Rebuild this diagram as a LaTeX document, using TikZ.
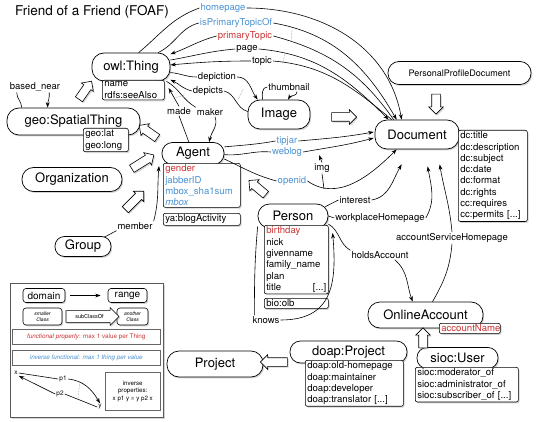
\documentclass[tikz,border=0pt]{standalone}
\usepackage{fontspec}
\setmainfont{TeX Gyre Heros}
\usetikzlibrary{shapes.arrows,shadows,calc,arrows.meta}
\definecolor{fred}{RGB}{204,51,51}
\definecolor{fblue}{RGB}{74,146,212}
\begin{document}
\begin{tikzpicture}[x=1pt,y=1pt,
  shad/.style={drop shadow={shadow xshift=1.2pt,shadow yshift=-1.4pt,opacity=0.35}},
  cls/.style n args={3}{draw,fill=white,line width=0.7pt,shad,inner sep=0pt,minimum width=#1,minimum height=#2,rounded corners=#3,font=\fontsize{13}{15}\selectfont},
  attr/.style={draw,fill=white,line width=0.6pt,rounded corners=2pt,shad,anchor=north west,align=left,inner xsep=2pt,inner ysep=1.5pt,text width=#1,font=\fontsize{9.6}{11.3}\selectfont},
  harrow/.style={single arrow,draw,fill=white,line width=0.6pt,shad,inner xsep=0pt,inner ysep=4pt,minimum height=#1,single arrow head extend=3pt},
  lab/.style={font=\fontsize{9.5}{11}\selectfont,inner sep=1pt},
  conn/.style={line width=0.6pt},
  arr/.style={conn,-{Stealth[length=5.5pt,width=3.8pt]}},
  inv/.style={gray,densely dotted,line width=0.5pt},
  lbox/.style n args={2}{draw,fill=white,line width=0.6pt,rounded corners=3pt,shad,inner sep=0pt,minimum width=#1,minimum height=#2,font=\fontsize{10}{12}\selectfont},
  ltext/.style={font=\fontsize{6.5}{7}\selectfont,inner sep=1pt},
]
\useasboundingbox (0,0) rectangle (537,-422);

% title
\node[anchor=base west,inner sep=0pt,font=\fontsize{13.5}{16}\selectfont] (title) at (15,-16) {Friend of a Friend (FOAF)};

% classes
\node[cls={78pt}{28pt}{12pt}] (owl) at (131,-67) {owl:Thing};
\node[cls={133pt}{27pt}{12pt}] (geo) at (73.5,-121.5) {geo:SpatialThing};
\node[cls={62pt}{29pt}{12pt}] (img) at (279,-114.5) {Image};
\node[cls={84pt}{29pt}{12pt}] (doc) at (417,-134.5) {Document};
\node[cls={143pt}{23pt}{11pt},font=\fontsize{9}{11}\selectfont] (ppd) at (459.5,-73) {PersonalProfileDocument};
\node[cls={62pt}{22pt}{10.5pt}] (agent) at (193,-153.5) {Agent};
\node[cls={100pt}{24pt}{11.5pt}] (org) at (72,-179.5) {Organization};
\node[cls={56pt}{20pt}{9.5pt}] (group) at (83,-246.5) {Group};
\node[cls={70pt}{24pt}{11.5pt}] (person) at (293,-216) {Person};
\node[cls={115pt}{26pt}{12pt}] (oa) at (425.5,-315) {OnlineAccount};
\node[cls={81pt}{21pt}{10pt}] (sioc) at (457.5,-358) {sioc:User};
\node[cls={117pt}{22pt}{10.5pt}] (doap) at (348.5,-352) {doap:Project};
\node[cls={96pt}{26pt}{12pt}] (proj) at (215,-364) {Project};

% attribute boxes
\node[attr=58pt] (owlA) at (102,-80) {name\\rdfs:seeAlso};
\node[attr=41pt] (geoA) at (83,-128) {geo:lat\\geo:long};
\node[attr=65pt] (docA) at (458,-130) {dc:title\\dc:description\\dc:subject\\dc:date\\dc:format\\dc:rights\\cc:requires\\cc:permits [...]};
\node[attr=73pt] (agentA) at (163,-163) {\textcolor{fred}{gender}\\\textcolor{fblue}{jabberID}\\\textcolor{fblue}{mbox\_sha1sum}\\\textcolor{fblue}{\itshape mbox}};
\node[attr=73pt] (agentB) at (163,-213) {ya:blogActivity};
\node[attr=60pt] (personA) at (264,-225) {\textcolor{fred}{birthday}\\nick\\givenname\\family\_name\\plan\\title\hfill[...]\hspace*{6pt}};
\node[attr=60pt] (personB) at (264,-298) {bio:olb};
\node[attr=57pt] (accA) at (439,-323) {\textcolor{fred}{accountName}};
\node[attr=99pt] (siocA) at (415,-367) {sioc:moderator\_of\\sioc:administrator\_of\\sioc:subscriber\_of [...]};
\node[attr=94pt] (doapA) at (305,-360) {doap:old-homepage\\doap:maintainer\\doap:developer\\doap:translator [...]};

% subclass arrows
\node[harrow=22pt,rotate=55] (h1) at (84,-92) {};
\node[harrow=22pt,rotate=145] (h2) at (150,-133) {};
\node[harrow=26pt,rotate=32] (h3) at (141,-163) {};
\node[harrow=26pt,rotate=45] (h4) at (133,-202) {};
\node[harrow=22pt,rotate=140] (h5) at (259,-189) {};
\node[harrow=25pt,rotate=0] (h6) at (342,-117) {};
\node[harrow=20pt,rotate=-90] (h7) at (436,-102) {};
\node[harrow=20pt,rotate=90] (h8) at (423,-340) {};
\node[harrow=27pt,rotate=180] (h9) at (276,-362) {};

% property labels
\node[lab,text=fblue] (hp) at (223,-8) {homepage};
\node[lab,text=fblue] (ipt) at (236,-23) {isPrimaryTopicOf};
\node[lab,text=fred] (pt) at (245,-36) {primaryTopic};
\node[lab] (page) at (247,-49) {page};
\node[lab] (topic) at (262,-61) {topic};
\node[lab] (depn) at (217,-77) {depiction};
\node[lab] (deps) at (208,-91) {depicts};
\node[lab] (thumb) at (289,-87) {thumbnail};
\node[lab] (made) at (179,-111) {made};
\node[lab] (maker) at (210,-112) {maker};
\node[lab,text=fblue] (tipjar) at (287,-141) {tipjar};
\node[lab,text=fblue] (weblog) at (287,-152) {weblog};
\node[lab,text=fblue] (openid) at (292,-181) {openid};
\node[lab] (imgl) at (322,-168) {img};
\node[lab] (interest) at (355,-200) {interest};
\node[lab] (wph) at (380,-218) {workplaceHomepage};
\node[lab] (ash) at (452,-238) {accountServiceHomepage};
\node[lab] (holds) at (380,-255) {holdsAccount};
\node[lab] (knows) at (266,-320) {knows};
\node[lab] (member) at (135,-226) {member};
\node[lab] (bn) at (35,-87) {based\_near};

\coordinate (imgfoot) at (324,-189);
\coordinate (imgtip) at (319,-155);

% connectors
\draw[conn] (owl.62) to[out=40,in=200] (hp.west);
\draw[arr] (hp.east) to[out=0,in=100] ($(doc.north west)+(27,0)$);
\draw[conn] (owl.28) to[out=25,in=195] (ipt.west);
\draw[arr] (ipt.east) to[out=-10,in=120] ($(doc.north west)+(22,0)$);
\draw[conn] ($(doc.north west)+(19,0)$) to[out=125,in=-15] (pt.east);
\draw[arr] (pt.west) to[out=195,in=20] (owl.18);
\draw[conn] (owl.10) to[out=10,in=185] (page.west);
\draw[arr] (page.east) to[out=-5,in=135] ($(doc.north west)+(14,0)$);
\draw[conn] ($(doc.north west)+(17,0)$) to[out=140,in=-5] (topic.east);
\draw[arr] (topic.west) to[out=180,in=5] (owl.3);
\draw[conn] (owl.-8) to[out=-5,in=180] (depn.west);
\draw[arr] (depn.east) to[out=0,in=125] ($(img.north west)+(10,0)$);
\draw[conn] ($(img.west)+(0,3)$) to[out=165,in=-15] (deps.east);
\draw[arr] (deps.west) to[out=165,in=-25] (owl.-18);
\draw[conn] ($(img.north west)+(15,0)$) to[out=100,in=180] (thumb.west);
\draw[arr] ($(thumb.south)+(8,0)$) to[out=-90,in=60] ($(img.north)+(9,0)$);
\draw[conn] (agent.110) -- (made.south);
\draw[arr] (made.north) -- ($(owlA.north east)+(4,-8)$);
\draw[conn] (owl.-22) to[out=-30,in=150] (maker.north west);
\draw[arr] ($(maker.south)+(5,0)$) to[out=-70,in=80] (agent.35);
\draw[conn] (agent.12) to[out=5,in=190] (tipjar.west);
\draw[arr] (tipjar.east) to[out=5,in=190] ($(doc.west)+(-1,2.5)$);
\draw[conn] (agent.-2) to[out=-5,in=175] (weblog.west);
\draw[arr] (weblog.east) to[out=10,in=195] ($(doc.west)+(-1,-3.5)$);
\draw[conn] (agent.-10) to[out=-25,in=165] (openid.west);
\draw[arr] (openid.east) to[out=-35,in=-135] ($(doc.south west)+(22,0)$);
\draw[conn] (imgfoot) -- (imgl.south);
\draw[arr] (imgl.north) -- (imgtip);
\draw[conn] ($(person.north east)+(-3,-3)$) -- (interest.west);
\draw[arr] (interest.east) to[out=10,in=-120] ($(doc.south west)+(27,-15)$);
\draw[conn] (person.east) -- (wph.west);
\draw[arr] (wph.east) to[out=60,in=-80] ($(doc.south west)+(53,-17)$);
\draw[conn] ($(oa.north)+(7,0)$) to[out=60,in=-95] (ash.south);
\draw[arr] (ash.north) to[out=95,in=-80] ($(doc.south west)+(65,-15)$);
\draw[conn] ($(person.east)+(0,-8)$) to[out=-30,in=150] (holds.north west);
\draw[arr] ($(holds.south east)+(-15,0)$) to[out=-40,in=110] ($(oa.north west)+(45,0)$);
\draw[conn] ($(person.south west)+(0,2)$) to[out=-95,in=90] ($(knows.north west)+(3,0)$);
\draw[arr] (knows.east) to[out=0,in=-85,looseness=1.3] ($(personA.north east)+(4,-8)$);
\draw[conn] ($(group.north east)+(-7,-1)$) -- (member.south west);
\draw[arr] (member.north east) to[out=75,in=-95] ($(agentA.north west)+(-4,-3)$);
\draw[conn] ($(geo.north west)+(15,0)$) to[out=90,in=-90] ($(bn.south west)+(8,0)$);
\draw[arr] ($(bn.south east)+(-12,0)$) to[out=-85,in=90] ($(geo.north west)+(41,0)$);

% inverse markers
\draw[inv] (292,-30) -- (291,-42);
\draw[inv] (285,-54) -- (283,-62);
\draw[inv] (243,-89) -- (238,-100);
\draw[inv] (174.5,-98) -- (184,-95);

% legend
\node[draw=gray!70!black,line width=1.2pt,fill=white,shad,anchor=north west,minimum width=153pt,minimum height=134pt,inner sep=0pt] (leg) at (10,-283) {};
\node[lbox={42pt}{14pt}] (ldom) at (44,-295.5) {domain};
\node[lbox={39pt}{14pt}] (lrng) at (127.5,-295.5) {range};
\draw[arr] ($(ldom.east)+(5,0)$) -- ($(lrng.west)+(-7,0)$);
\node[lbox={39pt}{17pt},font=\fontsize{5}{6}\selectfont\itshape,align=center] (lsmall) at (42.5,-316.5) {smaller\\Class};
\node[lbox={31pt}{17pt},font=\fontsize{5}{6}\selectfont\itshape,align=center] (lanother) at (132.5,-316.5) {another\\Class};
\node[harrow=53pt,inner ysep=3.5pt,single arrow head extend=3pt,font=\fontsize{5.5}{6}\selectfont] (lsub) at (89.5,-316.5) {subClassOf};
\node[draw=gray!80!black,line width=0.5pt,fill=white,anchor=north west,minimum width=148pt,minimum height=15pt,inner sep=0pt,text=fred,font=\fontsize{6.3}{7}\selectfont] (lfunc) at (12,-329) {\textit{functional property}: max 1 value per Thing};
\node[draw=gray!80!black,line width=0.5pt,fill=white,anchor=north west,minimum width=148pt,minimum height=15pt,inner sep=0pt,text=fblue,font=\fontsize{6.3}{7}\selectfont] (linvf) at (12,-350) {\textit{inverse functional: max 1 thing per value}};
\node[draw=gray!80!black,line width=0.5pt,fill=white,anchor=north west,minimum width=55pt,minimum height=38pt,inner sep=0pt,align=center,font=\fontsize{6.2}{7.5}\selectfont] (linvp) at (105,-372) {inverse\\properties:\\x p1 y = y p2 x};
\node[ltext] (lx) at (16,-373) {x};
\node[ltext] (lp1) at (63,-379) {p1};
\node[ltext] (lp2) at (60,-394) {p2};
\node[ltext] (ly) at (100,-407) {y};
\draw[conn] (lx.east) -- (lp1.west);
\draw[arr] (lp1.east) to[out=-5,in=120] (ly.north);
\draw[conn] (ly.west) -- (lp2.east);
\draw[arr] (lp2.west) -- (lx.south east);
\draw[inv] (80,-381) -- (78,-398);
\end{tikzpicture}
\end{document}
